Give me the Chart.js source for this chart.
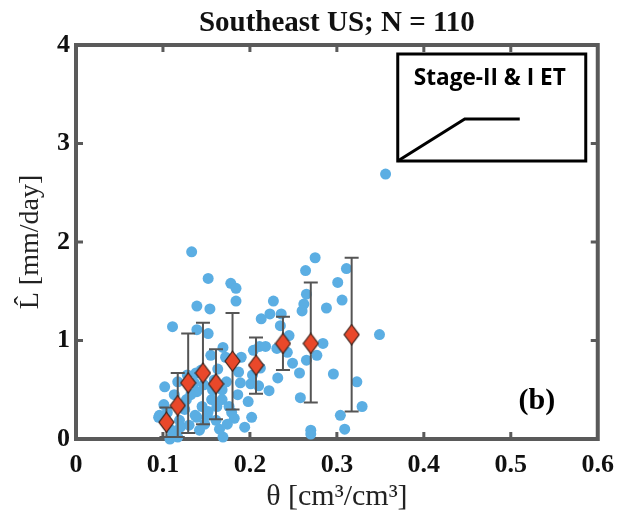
<!DOCTYPE html>
<html>
<head>
<meta charset="utf-8">
<script src="https://cdn.jsdelivr.net/npm/chart.js@4.4.1/dist/chart.umd.min.js"></script>
<style>
    html, body { margin: 0; padding: 0; background: #fff; }
</style>
</head>
<body>
<canvas id="scatterChart" width="625" height="523"></canvas>
<script>
// observed soil moisture (theta) and L-hat per site-day
const obsTheta = [
    0.133, 0.152, 0.178, 0.184, 0.184, 0.139, 0.154, 0.111, 0.139, 0.152,
    0.227, 0.223, 0.213, 0.236, 0.235, 0.264, 0.275, 0.265, 0.262, 0.260,
    0.288, 0.301, 0.311, 0.306, 0.356, 0.349, 0.169, 0.172, 0.190, 0.204,
    0.211, 0.218, 0.231, 0.243, 0.245, 0.249, 0.257, 0.284, 0.277, 0.265,
    0.296, 0.323, 0.329, 0.258, 0.304, 0.309, 0.270, 0.270, 0.222, 0.201,
    0.198, 0.202, 0.189, 0.182, 0.169, 0.102, 0.117, 0.101, 0.095, 0.110,
    0.119, 0.125, 0.127, 0.139, 0.145, 0.156, 0.139, 0.151, 0.161, 0.144,
    0.136, 0.108, 0.115, 0.163, 0.159, 0.173, 0.168, 0.168, 0.162, 0.176,
    0.179, 0.210, 0.203, 0.130, 0.142, 0.117, 0.137, 0.152, 0.096, 0.138,
    0.147, 0.157, 0.132, 0.113, 0.105, 0.148, 0.165, 0.186, 0.174, 0.128,
    0.187, 0.232, 0.212, 0.194, 0.120, 0.155
];
const obsL = [
    1.90, 1.63, 1.58, 1.53, 1.40, 1.35, 1.32, 1.14, 1.11, 1.07,
    1.40, 1.27, 1.22, 1.27, 1.15, 1.71, 1.84, 1.47, 1.37, 1.30,
    1.33, 1.59, 1.73, 1.41, 2.69, 1.06, 0.93, 0.83, 0.83, 0.90,
    0.94, 0.94, 0.92, 0.88, 1.05, 0.77, 0.67, 0.97, 0.85, 0.80,
    0.66, 0.58, 0.33, 0.42, 0.24, 0.10, 0.09, 0.05, 0.49, 0.56,
    0.38, 0.22, 0.57, 0.21, 0.02, 0.53, 0.58, 0.35, 0.22, 0.09,
    0.19, 0.30, 0.40, 0.48, 0.33, 0.40, 0.22, 0.24, 0.19, 0.70,
    0.57, 0.00, 0.04, 0.71, 0.60, 0.58, 0.50, 0.40, 0.33, 0.33,
    0.27, 0.54, 0.65, 0.14, 0.09, 0.02, 0.24, 0.28, 0.24, 0.67,
    0.55, 0.50, 0.45, 0.45, 0.27, 0.15, 0.10, 0.45, 0.15, 0.65,
    0.68, 0.62, 0.72, 0.12, 0.12, 0.85
];

// binned means with spread
const binTheta = [0.104, 0.117, 0.129, 0.146, 0.161, 0.180, 0.207, 0.238, 0.270, 0.317];
const binMean  = [0.17, 0.34, 0.57, 0.67, 0.56, 0.79, 0.75, 0.97, 0.97, 1.06];
const binLow   = [0.02, 0.02, 0.06, 0.15, 0.20, 0.30, 0.46, 0.70, 0.37, 0.28];
const binHigh  = [0.32, 0.67, 1.07, 1.18, 0.91, 1.28, 1.03, 1.24, 1.59, 1.84];

const xTicks = [0, 0.1, 0.2, 0.3, 0.4, 0.5, 0.6];
const yTicks = [0, 1, 2, 3, 4];

function diamondImage(w, h) {
    const c = document.createElement('canvas');
    c.width = w + 2;
    c.height = h + 2;
    const g = c.getContext('2d');
    g.beginPath();
    g.moveTo(c.width / 2, 1);
    g.lineTo(c.width - 1, c.height / 2);
    g.lineTo(c.width / 2, c.height - 1);
    g.lineTo(1, c.height / 2);
    g.closePath();
    g.fillStyle = '#E9482A';
    g.fill();
    g.lineWidth = 1.2;
    g.strokeStyle = '#3b2018';
    g.stroke();
    return c;
}

const frameColor = '#5a5a5a';

// box around the axes with inward ticks
const frame = {
    id: 'frame',
    beforeDatasetsDraw(chart) {
        const {ctx, chartArea: a, scales: {x, y}} = chart;
        ctx.save();
        ctx.strokeStyle = frameColor;
        ctx.lineWidth = 3;
        xTicks.slice(1, -1).forEach(v => {
            const px = x.getPixelForValue(v);
            ctx.beginPath();
            ctx.moveTo(px, a.bottom); ctx.lineTo(px, a.bottom - 7);
            ctx.moveTo(px, a.top); ctx.lineTo(px, a.top + 7);
            ctx.stroke();
        });
        yTicks.slice(1, -1).forEach(v => {
            const py = y.getPixelForValue(v);
            ctx.beginPath();
            ctx.moveTo(a.left, py); ctx.lineTo(a.left + 7, py);
            ctx.moveTo(a.right, py); ctx.lineTo(a.right - 7, py);
            ctx.stroke();
        });
        ctx.lineWidth = 4;
        ctx.strokeRect(a.left, a.top, a.right - a.left, a.bottom - a.top);
        ctx.restore();
    }
};

const errorBars = {
    id: 'errorBars',
    beforeDatasetDraw(chart, args) {
        if (args.index !== 0) return;
        const {ctx, scales: {x, y}} = chart;
        ctx.save();
        ctx.strokeStyle = '#555';
        ctx.lineWidth = 2;
        binTheta.forEach((t, i) => {
            const px = x.getPixelForValue(t);
            const top = y.getPixelForValue(binHigh[i]);
            const bot = y.getPixelForValue(binLow[i]);
            ctx.beginPath();
            ctx.moveTo(px, top); ctx.lineTo(px, bot);
            ctx.moveTo(px - 7, top); ctx.lineTo(px + 7, top);
            ctx.moveTo(px - 7, bot); ctx.lineTo(px + 7, bot);
            ctx.stroke();
        });
        ctx.restore();
    }
};

// inset sketch and panel letter
const extras = {
    id: 'extras',
    afterDraw(chart) {
        const {ctx, chartArea: a, scales: {x, y}} = chart;
        ctx.save();
        const bx = a.right - 200, by = a.top + 9, bw = 188, bh = 107;
        ctx.fillStyle = '#fff';
        ctx.fillRect(bx, by, bw, bh);
        ctx.strokeStyle = '#000';
        ctx.lineWidth = 3;
        ctx.strokeRect(bx, by, bw, bh);
        ctx.beginPath();
        ctx.moveTo(bx, by + bh);
        ctx.lineTo(bx + 67, by + 65);
        ctx.lineTo(bx + 122, by + 65);
        ctx.stroke();

        ctx.fillStyle = '#000';
        ctx.textAlign = 'center';
        ctx.textBaseline = 'middle';
        ctx.font = 'bold 18px "Open Sans"';
        const label = 'Stage-II & I ET';
        const w = ctx.measureText(label).width;
        const size = 18 * 152 / w;
        ctx.font = 'bold ' + size.toFixed(1) + 'px "Open Sans"';
        ctx.fillText(label, bx + 92, by + 25);

        ctx.font = 'bold 30px "Liberation Serif"';
        ctx.fillText('(b)', x.getPixelForValue(0.53), y.getPixelForValue(0.38));
        ctx.restore();
    }
};

const chartCtx = document.getElementById('scatterChart').getContext('2d');

new Chart(chartCtx, {
    type: 'scatter',
    data: {
        datasets: [
            {
                label: 'binned mean',
                data: binTheta.map((t, i) => ({x: t, y: binMean[i]})),
                pointStyle: diamondImage(15, 20),
                order: 0,
            },
            {
                label: 'observations',
                data: obsTheta.map((t, i) => ({x: t, y: obsL[i]})),
                backgroundColor: '#5BAEE3',
                borderColor: '#5BAEE3',
                borderWidth: 0,
                pointRadius: 5.5,
                clip: false,
                order: 1,
            },
        ],
    },
    options: {
        responsive: false,
        animation: false,
        layout: {
            padding: {left: 0, right: 22, top: 0, bottom: 0},
        },
        plugins: {
            legend: {
                display: false,
            },
            tooltip: {
                enabled: false,
            },
            title: {
                display: true,
                fullSize: false,
                text: 'Southeast US; N = 110',
                color: '#111',
                font: {family: 'Liberation Serif', size: 29, weight: 'bold'},
                padding: {top: 6, bottom: 4.2},
            },
        },
        scales: {
            x: {
                type: 'linear',
                min: 0,
                max: 0.6,
                afterFit: scale => { scale.height = 84; },
                afterBuildTicks: scale => { scale.ticks = xTicks.map(v => ({value: v})); },
                grid: {display: false, drawTicks: false},
                border: {display: false},
                ticks: {
                    color: '#111',
                    padding: 11,
                    font: {family: 'Liberation Serif', size: 26, weight: 'bold'},
                    callback: v => String(+v.toFixed(1)),
                },
                title: {
                    display: true,
                    text: 'θ [cm³/cm³]',
                    color: '#222',
                    font: {family: 'Liberation Serif', size: 30},
                    padding: {top: 0, bottom: 8},
                },
            },
            y: {
                type: 'linear',
                min: 0,
                max: 4,
                afterFit: scale => { scale.width = 76; },
                afterBuildTicks: scale => { scale.ticks = yTicks.map(v => ({value: v})); },
                grid: {display: false, drawTicks: false},
                border: {display: false},
                ticks: {
                    color: '#111',
                    padding: 6,
                    font: {family: 'Liberation Serif', size: 26, weight: 'bold'},
                },
                title: {
                    display: true,
                    text: 'L̂ [mm/day]',
                    color: '#222',
                    font: {family: 'Liberation Serif', size: 28},
                    padding: {top: 14, bottom: 0},
                },
            },
        },
    },
    plugins: [frame, errorBars, extras],
});
</script>
</body>
</html>
